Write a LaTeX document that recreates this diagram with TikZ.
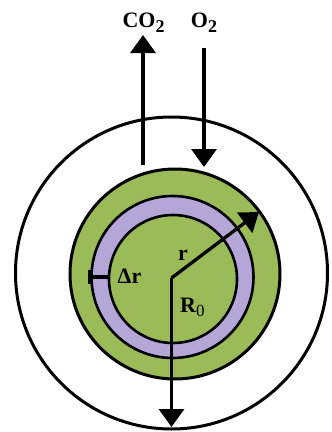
\documentclass[tikz,border=0pt]{standalone}
\usepackage{fontspec}
\setmainfont{Liberation Serif}
\usetikzlibrary{arrows.meta}
\definecolor{cellgreen}{RGB}{155,187,89}
\definecolor{ringpurple}{RGB}{180,166,214}
\begin{document}
\begin{tikzpicture}[x=1pt,y=-1pt,
  disc/.style={circle, draw=black, line width=3pt, inner sep=0pt, outer sep=0pt},
  flux/.style={line width=3.3pt, -{Triangle[length=18pt,width=25pt]}},
  lbl/.style={font=\fontsize{22}{22}\selectfont\bfseries, inner sep=0pt},
  ]
\useasboundingbox (0,0) rectangle (332,432);
% shells
\node[disc, fill=white, minimum size=312pt] (outer) at (171.5,273) {};
\node[disc, fill=cellgreen, minimum size=210pt] (cell) at (175,274) {};
\node[disc, fill=ringpurple, line width=2.6pt, minimum size=162pt] (ring) at (172.5,277) {};
\node[disc, fill=cellgreen, line width=2.6pt, minimum size=128pt] (core) at (173,279) {};
% key points
\coordinate (O) at (171.5,278);
\coordinate (rtip) at (259,212);
\coordinate (Rtip) at (171.5,427);
\coordinate (co2s) at (143,165);
\coordinate (co2t) at (143,35);
\coordinate (o2s) at (204,48);
\coordinate (o2t) at (204,167);
\coordinate (drl) at (88,277);
\coordinate (drr) at (109.5,277);
% arrows
\draw[flux] (O) -- (rtip);
\draw[flux] (O) -- (Rtip);
\draw[flux] (co2s) -- (co2t);
\draw[flux] (o2s) -- (o2t);
\draw[line width=4pt, {Bar[width=14pt]}-] (drl) -- (drr);
% labels
\node[lbl, anchor=base] (co2) at (143.5,27) {CO\raisebox{-5pt}{\fontsize{18}{18}\selectfont 2}};
\node[lbl, anchor=base] (o2) at (204,27) {O\raisebox{-5pt}{\fontsize{18}{18}\selectfont 2}};
\node[lbl, anchor=base] (rlab) at (183,260) {r};
\node[lbl, anchor=base] (drlab) at (129.5,283) {Δr};
\node[lbl, anchor=base west] (R0) at (180,312) {R\raisebox{-4pt}{\fontsize{17}{17}\selectfont\mdseries 0}};
\end{tikzpicture}
\end{document}
